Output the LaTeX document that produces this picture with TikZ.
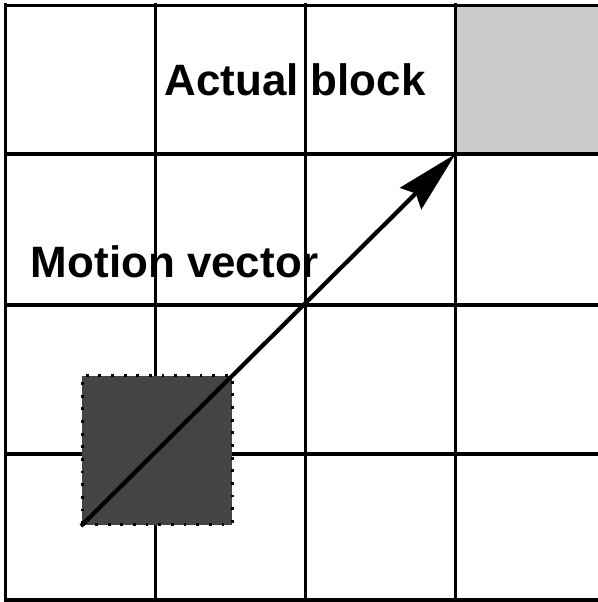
\documentclass[tikz,border=0pt]{standalone}
\usepackage{fontspec}
\setmainfont{Liberation Sans}
\usetikzlibrary{arrows.meta}
\definecolor{blockgray}{HTML}{CCCCCC}
\definecolor{blockdark}{HTML}{444444}
\begin{document}
\begin{tikzpicture}[
    gridline/.style={line width=0.9pt},
    tagtext/.style={font=\fontsize{12.5}{15}\selectfont\bfseries, inner sep=0pt, anchor=base},
    blockbox/.style={minimum width=1.5cm, minimum height=1.49cm, inner sep=0pt, anchor=south west}
  ]
  \useasboundingbox (0,0) rectangle (5.98,6.02);
  \node[blockbox, fill=blockgray] (actual) at (4.555,4.48) {};
  \foreach \x in {0.055,1.555,3.055,4.555}
    \draw[gridline] (\x,0) -- (\x,5.99);
  \foreach \y in {5.965,4.48,2.97,1.48,0.02}
    \draw[gridline] (0.04,\y) -- (5.98,\y);
  % shifted block sits on top of the grid
  \node[blockbox, fill=blockdark, draw=black, line width=0.8pt, dash pattern=on 0.8pt off 2.8pt] (moved) at (0.81,0.76) {};
  \draw[-{Stealth[length=0.63cm,width=0.3cm,inset=0.07cm]}, line width=1.2pt] (moved.south west) -- (actual.south west);
  \node[tagtext] (actualtext) at (2.95,5.07) {Actual block};
  \node[tagtext] (motiontext) at (1.75,3.25) {Motion vector};
\end{tikzpicture}
\end{document}
